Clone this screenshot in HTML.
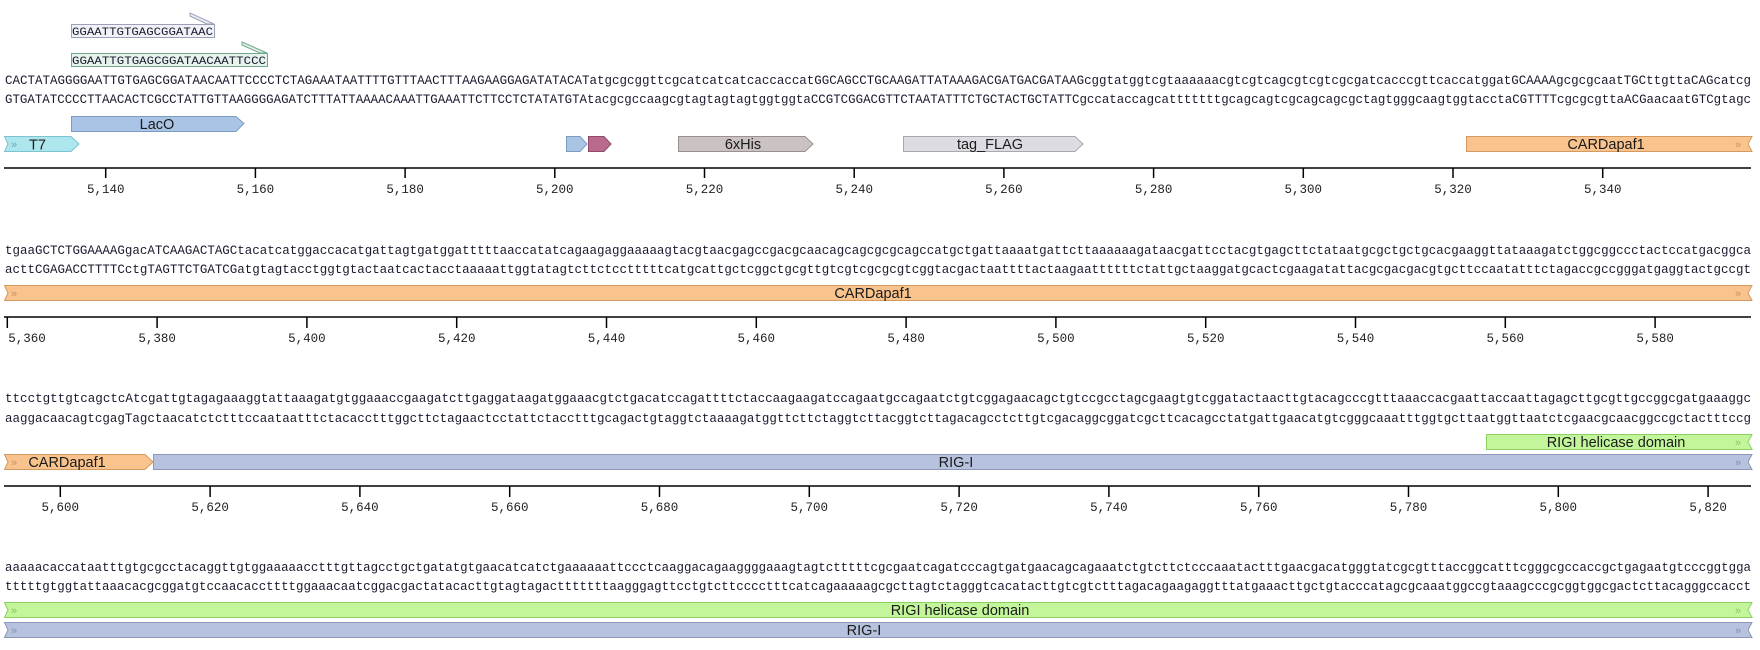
<!DOCTYPE html>
<html><head><meta charset="utf-8"><style>
html,body{margin:0;padding:0;background:#fff;width:1760px;height:650px;overflow:hidden}
svg{display:block}
.s{font-family:"Liberation Mono",monospace;font-size:12.5px;fill:#1a1a2e}
.t{font-family:"Liberation Mono",monospace;font-size:12.5px;fill:#222}
.f{font-family:"Liberation Sans",sans-serif;font-size:14.5px;fill:#1a1a1a}
.p{font-family:"Liberation Mono",monospace;font-size:11px;fill:#1a1a2e}
.ch{font-family:"Liberation Sans",sans-serif;font-size:11px}
</style></head><body>
<svg width="1760" height="650" xmlns="http://www.w3.org/2000/svg">
<polygon points="214,24 190,13 190,16 207,24" fill="#eef0f6" stroke="#9aa0b8" stroke-width="1"/>
<rect x="71.5" y="24.5" width="143" height="13" fill="#f0f2f8" stroke="#9aa0b8"/>
<text class="p" x="72" y="35" textLength="141" lengthAdjust="spacingAndGlyphs">GGAATTGTGAGCGGATAAC</text>
<polygon points="267,53 242,42 242,45 260,53" fill="#e2f0e8" stroke="#6fa88a" stroke-width="1"/>
<rect x="71.5" y="53.5" width="196" height="13" fill="#e6f2ec" stroke="#6fa88a"/>
<text class="p" x="72" y="64" textLength="194" lengthAdjust="spacingAndGlyphs">GGAATTGTGAGCGGATAACAATTCCC</text>

<text class="s" x="5" y="84" textLength="1746" lengthAdjust="spacingAndGlyphs">CACTATAGGGGAATTGTGAGCGGATAACAATTCCCCTCTAGAAATAATTTTGTTTAACTTTAAGAAGGAGATATACATatgcgcggttcgcatcatcatcaccaccatGGCAGCCTGCAAGATTATAAAGACGATGACGATAAGcggtatggtcgtaaaaaacgtcgtcagcgtcgtcgcgatcacccgttcaccatggatGCAAAAgcgcgcaatTGCttgttaCAGcatcg</text>
<text class="s" x="5" y="103" textLength="1746" lengthAdjust="spacingAndGlyphs">GTGATATCCCCTTAACACTCGCCTATTGTTAAGGGGAGATCTTTATTAAAACAAATTGAAATTCTTCCTCTATATGTAtacgcgccaagcgtagtagtagtggtggtaCCGTCGGACGTTCTAATATTTCTGCTACTGCTATTCgccataccagcatttttttgcagcagtcgcagcagcgctagtgggcaagtggtacctaCGTTTTcgcgcgttaACGaacaatGTCgtagc</text>

<polygon points="71.5,116.5 236,116.5 244,123.5 236,131.5 71.5,131.5" fill="#a9c4e4" stroke="#7d9cc4"/>
<text class="f" x="157" y="129" text-anchor="middle">LacO</text>
<polygon points="4.5,136.5 71,136.5 79,144 71,151.5 4.5,151.5 8,144" fill="#aee6ee" stroke="#7cc4d0"/>
<text class="ch" x="11" y="148" fill="#6aa8b4">»</text>
<text class="f" x="29" y="149.5">T7</text>
<polygon points="566.5,136.5 580,136.5 587,144 580,151.5 566.5,151.5" fill="#a9c4e4" stroke="#7d9cc4"/>
<polygon points="588.5,136.5 604,136.5 611,144 604,151.5 588.5,151.5" fill="#b86b8c" stroke="#8e4a68"/>
<polygon points="678.5,136.5 805,136.5 813,144 805,151.5 678.5,151.5" fill="#cbc3c3" stroke="#9a9090"/>
<text class="f" x="743" y="149" text-anchor="middle">6xHis</text>
<polygon points="903.5,136.5 1075,136.5 1083,144 1075,151.5 903.5,151.5" fill="#dcdce2" stroke="#a8a8b0"/>
<text class="f" x="990" y="149" text-anchor="middle">tag_FLAG</text>
<polygon points="1466.5,136.5 1752,136.5 1748,144 1752,151.5 1466.5,151.5" fill="#f9c38e" stroke="#d49a60"/>
<text class="f" x="1606" y="149" text-anchor="middle">CARDapaf1</text>
<text class="ch" x="1735" y="148" fill="#c89060">»</text>

<g stroke="#000" stroke-width="1.5">
<line x1="4" y1="168" x2="1751" y2="168"/>
<line x1="105.7" y1="168" x2="105.7" y2="178"/><line x1="255.4" y1="168" x2="255.4" y2="178"/><line x1="405.1" y1="168" x2="405.1" y2="178"/><line x1="554.8" y1="168" x2="554.8" y2="178"/><line x1="704.5" y1="168" x2="704.5" y2="178"/><line x1="854.2" y1="168" x2="854.2" y2="178"/><line x1="1003.9" y1="168" x2="1003.9" y2="178"/><line x1="1153.6" y1="168" x2="1153.6" y2="178"/><line x1="1303.3" y1="168" x2="1303.3" y2="178"/><line x1="1453" y1="168" x2="1453" y2="178"/><line x1="1602.7" y1="168" x2="1602.7" y2="178"/>
</g>
<g class="t" text-anchor="middle">
<text x="105.7" y="193">5,140</text><text x="255.4" y="193">5,160</text><text x="405.1" y="193">5,180</text><text x="554.8" y="193">5,200</text><text x="704.5" y="193">5,220</text><text x="854.2" y="193">5,240</text><text x="1003.9" y="193">5,260</text><text x="1153.6" y="193">5,280</text><text x="1303.3" y="193">5,300</text><text x="1453" y="193">5,320</text><text x="1602.7" y="193">5,340</text>
</g>

<text class="s" x="5" y="254" textLength="1746" lengthAdjust="spacingAndGlyphs">tgaaGCTCTGGAAAAGgacATCAAGACTAGCtacatcatggaccacatgattagtgatggatttttaaccatatcagaagaggaaaaagtacgtaacgagccgacgcaacagcagcgcgcagccatgctgattaaaatgattcttaaaaaagataacgattcctacgtgagcttctataatgcgctgctgcacgaaggttataaagatctggcggccctactccatgacggca</text>
<text class="s" x="5" y="273" textLength="1746" lengthAdjust="spacingAndGlyphs">acttCGAGACCTTTTCctgTAGTTCTGATCGatgtagtacctggtgtactaatcactacctaaaaattggtatagtcttctcctttttcatgcattgctcggctgcgttgtcgtcgcgcgtcggtacgactaattttactaagaattttttctattgctaaggatgcactcgaagatattacgcgacgacgtgcttccaatatttctagaccgccgggatgaggtactgccgt</text>
<polygon points="4.5,285.5 1752,285.5 1748,293 1752,300.5 4.5,300.5 8,293" fill="#f9c38e" stroke="#d49a60"/>
<text class="ch" x="11" y="297" fill="#c89060">»</text>
<text class="ch" x="1735" y="297" fill="#c89060">»</text>
<text class="f" x="873" y="298" text-anchor="middle">CARDapaf1</text>
<g stroke="#000" stroke-width="1.5">
<line x1="4" y1="317" x2="1751" y2="317"/>
<line x1="7.3" y1="317" x2="7.3" y2="328"/><line x1="157.1" y1="317" x2="157.1" y2="328"/><line x1="306.9" y1="317" x2="306.9" y2="328"/><line x1="456.7" y1="317" x2="456.7" y2="328"/><line x1="606.5" y1="317" x2="606.5" y2="328"/><line x1="756.3" y1="317" x2="756.3" y2="328"/><line x1="906.1" y1="317" x2="906.1" y2="328"/><line x1="1055.9" y1="317" x2="1055.9" y2="328"/><line x1="1205.7" y1="317" x2="1205.7" y2="328"/><line x1="1355.5" y1="317" x2="1355.5" y2="328"/><line x1="1505.3" y1="317" x2="1505.3" y2="328"/><line x1="1655.1" y1="317" x2="1655.1" y2="328"/>
</g>
<g class="t" text-anchor="middle">
<text x="27" y="342">5,360</text><text x="157.1" y="342">5,380</text><text x="306.9" y="342">5,400</text><text x="456.7" y="342">5,420</text><text x="606.5" y="342">5,440</text><text x="756.3" y="342">5,460</text><text x="906.1" y="342">5,480</text><text x="1055.9" y="342">5,500</text><text x="1205.7" y="342">5,520</text><text x="1355.5" y="342">5,540</text><text x="1505.3" y="342">5,560</text><text x="1655.1" y="342">5,580</text>
</g>

<text class="s" x="5" y="402" textLength="1746" lengthAdjust="spacingAndGlyphs">ttcctgttgtcagctcAtcgattgtagagaaaggtattaaagatgtggaaaccgaagatcttgaggataagatggaaacgtctgacatccagattttctaccaagaagatccagaatgccagaatctgtcggagaacagctgtccgcctagcgaagtgtcggatactaacttgtacagcccgtttaaaccacgaattaccaattagagcttgcgttgccggcgatgaaaggc</text>
<text class="s" x="5" y="422" textLength="1746" lengthAdjust="spacingAndGlyphs">aaggacaacagtcgagTagctaacatctctttccaataatttctacacctttggcttctagaactcctattctacctttgcagactgtaggtctaaaagatggttcttctaggtcttacggtcttagacagcctcttgtcgacaggcggatcgcttcacagcctatgattgaacatgtcgggcaaatttggtgcttaatggttaatctcgaacgcaacggccgctactttccg</text>
<polygon points="1486.5,434.5 1752,434.5 1748,442 1752,449.5 1486.5,449.5" fill="#c3f59a" stroke="#8ed060"/>
<text class="ch" x="1735" y="446" fill="#8ec060">»</text>
<text class="f" x="1616" y="447" text-anchor="middle">RIGI helicase domain</text>
<polygon points="4.5,454.5 145,454.5 153,462 145,469.5 4.5,469.5 8,462" fill="#f9c38e" stroke="#d49a60"/>
<text class="ch" x="11" y="466" fill="#c89060">»</text>
<text class="f" x="67" y="467" text-anchor="middle">CARDapaf1</text>
<polygon points="153.5,454.5 1752,454.5 1748,462 1752,469.5 153.5,469.5" fill="#b7c3de" stroke="#8c98b6"/>
<text class="ch" x="1735" y="466" fill="#8590b0">»</text>
<text class="f" x="956" y="467" text-anchor="middle">RIG-I</text>
<g stroke="#000" stroke-width="1.5">
<line x1="4" y1="486" x2="1751" y2="486"/>
<line x1="60.3" y1="486" x2="60.3" y2="497"/><line x1="210.1" y1="486" x2="210.1" y2="497"/><line x1="359.9" y1="486" x2="359.9" y2="497"/><line x1="509.7" y1="486" x2="509.7" y2="497"/><line x1="659.5" y1="486" x2="659.5" y2="497"/><line x1="809.3" y1="486" x2="809.3" y2="497"/><line x1="959.1" y1="486" x2="959.1" y2="497"/><line x1="1108.9" y1="486" x2="1108.9" y2="497"/><line x1="1258.7" y1="486" x2="1258.7" y2="497"/><line x1="1408.5" y1="486" x2="1408.5" y2="497"/><line x1="1558.3" y1="486" x2="1558.3" y2="497"/><line x1="1708.1" y1="486" x2="1708.1" y2="497"/>
</g>
<g class="t" text-anchor="middle">
<text x="60.3" y="511">5,600</text><text x="210.1" y="511">5,620</text><text x="359.9" y="511">5,640</text><text x="509.7" y="511">5,660</text><text x="659.5" y="511">5,680</text><text x="809.3" y="511">5,700</text><text x="959.1" y="511">5,720</text><text x="1108.9" y="511">5,740</text><text x="1258.7" y="511">5,760</text><text x="1408.5" y="511">5,780</text><text x="1558.3" y="511">5,800</text><text x="1708.1" y="511">5,820</text>
</g>

<text class="s" x="5" y="571" textLength="1746" lengthAdjust="spacingAndGlyphs">aaaaacaccataatttgtgcgcctacaggttgtggaaaaacctttgttagcctgctgatatgtgaacatcatctgaaaaaattccctcaaggacagaaggggaaagtagtctttttcgcgaatcagatcccagtgatgaacagcagaaatctgtcttctcccaaatactttgaacgacatgggtatcgcgtttaccggcatttcgggcgccaccgctgagaatgtcccggtgga</text>
<text class="s" x="5" y="590" textLength="1746" lengthAdjust="spacingAndGlyphs">tttttgtggtattaaacacgcggatgtccaacaccttttggaaacaatcggacgactatacacttgtagtagactttttttaagggagttcctgtcttcccctttcatcagaaaaagcgcttagtctagggtcacatacttgtcgtctttagacagaagaggtttatgaaacttgctgtacccatagcgcaaatggccgtaaagcccgcggtggcgactcttacagggccacct</text>
<polygon points="4.5,602.5 1752,602.5 1748,610 1752,617.5 4.5,617.5 8,610" fill="#c3f59a" stroke="#8ed060"/>
<text class="ch" x="11" y="614" fill="#8ec060">»</text>
<text class="ch" x="1735" y="614" fill="#8ec060">»</text>
<text class="f" x="960" y="615" text-anchor="middle">RIGI helicase domain</text>
<polygon points="4.5,622.5 1752,622.5 1748,630 1752,637.5 4.5,637.5 8,630" fill="#b7c3de" stroke="#8c98b6"/>
<text class="ch" x="11" y="634" fill="#8590b0">»</text>
<text class="ch" x="1735" y="634" fill="#8590b0">»</text>
<text class="f" x="864" y="635" text-anchor="middle">RIG-I</text>
</svg>
</body></html>
